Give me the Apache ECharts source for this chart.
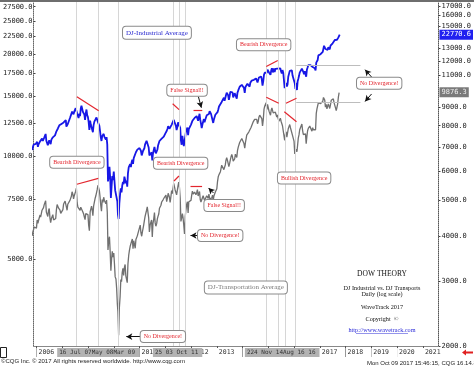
<!DOCTYPE html>
<html><head><meta charset="utf-8">
<script src="https://cdn.jsdelivr.net/npm/echarts@6/dist/echarts.min.js"></script>
<style>html,body{margin:0;padding:0;background:#fff}#c{width:474px;height:368px}</style>
</head><body><div id="c"></div>
<script>
// ---------- DATA (three samples a month: days 1, 11, 21) ----------
const dekadDays = [1, 11, 21];
// DJ Industrial Average
const djia2005 = [10440,10640,10820, 10910,10780,10880]; // from Nov
const djia2006 = [10850,11040,10670, 10870,10750,11070, 11010,11150,11280, 11110,11140,11350, 11400,11640,11120, 11170,10780,10990,
                  11150,11010,10870, 11200,11080,11380, 11380,11500,11530, 11680,11850,12010, 12080,12180,12340, 12220,12330,12460];
const djia2007 = [12470,12510,12580, 12650,12650,12780, 12230,12200,12450, 12350,12580,12960, 13130,13330,13540, 13650,13300,13540,
                  13530,13860,13950, 13360,13240,12960, 13360,13130,13820, 14090,14080,13520, 13650,13270,12800, 13370,13730,13230];
const djia2008 = [13040,12610,11970, 12740,12380,12260, 12270,11780,12360, 12650,12580,12820, 13010,12870,12620, 12640,12290,11840,
                  11380,11100,11470, 11330,11650,11410, 11540,11200,11390, 10830,8450,8690, 9320,8690,7550, 8150,8760,8520];
const djia2009 = [9030,8470,7950, 7940,7940,7370, 6760,6550,7280, 7760,8060,7840, 8210,8420,8290, 8720,8770,8340,
                  8500,8150,8920, 9290,9240,9500, 9310,9610,9780, 9510,9890,9950, 9790,10290,10320, 10470,10470,10410];
const djia2010 = [10580,10660,10390, 10070,10140,10390, 10400,10570,10850, 10860,11120,11130, 11010,10620,10070, 10140,10170,10280,
                  9730,10200,10320, 10670,10380,10210, 10270,10460,10760, 10830,11100,11110, 11120,11280,11200, 11260,11430,11530];
const djia2011 = [11670,11670,11870, 12040,12270,12390, 12060,12040,12040, 12380,12380,12510, 12810,12630,12510, 12290,11950,12190,
                  12580,12500,12720, 12130,11140,10820, 11490,11060,10730, 10660,11420,11810, 11660,12150,11550, 12020,12020,12110];
const djia2012 = [12400,12450,12720, 12720,12800,12970, 12980,12960,13130, 13260,12720,13030, 13340,12820,12500, 12120,12410,12570,
                  12870,12600,12820, 12970,13210,13200, 13040,13320,13580, 13520,13330,13350, 13230,12540,12840, 12970,13250,13190];
const djia2013 = [13410,13490,13710, 14010,13970,13880, 14090,14450,14420, 14570,14870,14570, 14700,15120,15390, 15250,15120,14660,
                  14980,15460,15550, 15630,15420,14900, 14830,15330,15400, 15190,14780,15390, 15620,15780,16010, 16010,15840,16220];
const djia2014 = [16440,16260,15880, 15370,15990,16100, 16170,16350,16300, 16530,16030,16450, 16560,16700,16530, 16740,16780,16950,
                  16960,16940,16980, 16490,16570,17040, 17070,17050,17170, 16800,16140,16610, 17370,17610,17810, 17780,17600,17960];
const djia2015 = [17830,17640,17550, 17360,17860,18140, 18290,17640,18130, 17700,18060,17950, 18020,18110,18290, 18040,18040,18120,
                  17760,17520,17920, 17600,17400,15870, 16060,16430,16050, 16270,17130,17170, 17830,17700,17820, 17890,17270,17250];
const djia2016 = [17150,16400,15770, 16450,15660,16620, 16870,17210,17620, 17790,17560,18100, 17890,17710,17440, 17790,17870,17140,
                  17950,18230,18520, 18400,18610,18530, 18420,18330,18290, 18250,18130,18150, 17890,18850,18960, 19190,19800,19980];
const djia2017 = [19880,19950,19830, 19890,20270,20740, 21120,20900,20670, 20650,20650,20550, 20910,20920,20610, 21140,21240,21410,
                  21480,21410,21580, 21960,21860,21680, 21990,22060,22360, 22560];
const djiaLastDate = '2017-10-09', djiaLast = 22770.6;
// DJ Transportation Average
const djt2005 = [4000,4100,4150, 4230,4250,4200];
const djt2006 = [4200,4420,4330, 4420,4460,4560, 4500,4600,4700, 4670,4780,4870, 4880,4990,4650, 4700,4520,4690,
                 4750,4480,4350, 4460,4430,4570, 4420,4400,4450, 4460,4720,4870, 4810,4760,4820, 4700,4610,4580];
const djt2007 = [4560,4720,4890, 4890,4980,5040, 4800,4700,4880, 4830,4900,5000, 5010,5130,5280, 5200,5050,5150,
                 5100,5300,5400, 4920,4790,4850, 4810,4700,4790, 4750,4840,4650, 4590,4500,4430, 4600,4650,4600];
const djt2008 = [4570,4280,4130, 4650,4700,4820, 4720,4540,4820, 4950,5060,5140, 5180,5350,5500, 5480,5320,5100,
                 4840,4670,5030, 4940,5100,5000, 5060,4900,5010, 4640,3660,3880, 3980,3620,3210, 3460,3630,3500];
const djt2009 = [3590,3350,3090, 3050,2870,2600, 2480,2140,2540, 2730,3040,3000, 3180,3260,3120, 3280,3340,3110,
                 3120,2980,3350, 3540,3650,3740, 3720,3870,3920, 3690,3880,3850, 3700,3910,3900, 4000,4070,4040];
const djt2010 = [4100,4280,4080, 3990,4100,4200, 4280,4400,4520, 4560,4700,4800, 4760,4480,4100, 4290,4300,4420,
                 3970,4330,4440, 4630,4340,4250, 4320,4450,4530, 4590,4760,4760, 4850,4950,4900, 5020,5060,5100];
const djt2011 = [5070,5170,4960, 5080,5230,5280, 5100,4940,5100, 5320,5220,5280, 5570,5450,5340, 5290,5180,5180,
                 5480,5610,5430, 5070,4380,4470, 4600,4470,4270, 4050,4520,4700, 4880,4960,4620, 4960,4930,5000];
const djt2012 = [5000,5170,5300, 5200,5230,5270, 5210,5180,5250, 5350,5140,5170, 5290,5030,4950, 4900,4920,5150,
                 5170,5000,5000, 4950,5150,5140, 5060,5200,5060, 5040,5000,5070, 5170,4990,5140, 5200,5270,5310];
const djt2013 = [5380,5630,5800, 5880,5950,5990, 6100,6240,6180, 6220,6070,6030, 6250,6440,6540, 6430,6350,6190,
                 6300,6440,6570, 6680,6580,6400, 6320,6490,6690, 6640,6550,6840, 6990,7070,7200, 7260,7160,7380];
const djt2014 = [7400,7350,7150, 6950,7200,7380, 7540,7550,7580, 7700,7640,7750, 7910,7900,8010, 8200,8260,8330,
                 8310,8240,8330, 8100,8210,8440, 8550,8480,8450, 8370,7990,8280, 8870,9050,9120, 9250,8850,9150];
const djt2015 = [9080,8770,8720, 8550,8820,8950, 9000,8670,8730, 8600,8710,8620, 8450,8560,8370, 8230,8200,8390,
                 8230,8150,8000, 8050,7950,7300, 7600,7700,7450, 7500,7850,7950, 8060,7900,8000, 7880,7520,7600];
const djt2016 = [7250,6700,6620, 6900,6790,7100, 7400,7550,7800, 7820,7740,8090, 7770,7570,7510, 7650,7600,7150,
                 7480,7750,7870, 7900,7980,8030, 7900,7730,7900, 7800,7760,7850, 7800,8650,8900, 8950,9250,9300];
const djt2017 = [9250,9200,9130, 9150,9320,9560, 9600,9400,8990, 9150,8900,8960, 9180,9050,8920, 9130,9390,9300,
                 9500,9480,9250, 9300,8950,8800, 9000,9200,9600, 9850];
const djtLastDate = '2017-10-09', djtLast = 9876.3;

// Axis ticks / labels
const leftTicks  = [27500, 25000, 22500, 20000, 17500, 15000, 12500, 10000, 7500, 5000];
const rightTicks = [17000, 16000, 15000, 13000, 12000, 11000, 9000, 8000, 7000, 6000, 5000, 4000, 3000, 2000];
const yearLabels = ['2006','2007','2008','2009','2010','2011','2012','2013','2014','2015','2016','2017','2018','2019','2020','2021'];
const dateLabelTexts = ['16 Jul 07May 08Mar 09', '25 03 Oct 11', '224 Nov 14Aug 16 16'];
const dateLabelDates = ['2006-10-22', '2010-07-10', '2014-02-03'];
const markerDates = ['2007-07-16','2008-05-27','2009-03-08','2011-05-01','2011-07-23','2011-10-16',
                     '2014-12-07','2015-05-24','2015-08-29','2016-01-24'];

// Annotations (date, value on the DJIA scale = 0 or DJT scale = 1)
const noteTexts  = ['Bearish Divergence','False Signal!!','Bearish Divergence','False Signal!!','No Divergence!',
                    'No Divergence!','Bearish Divergence','Bullish Divergence','No Divergence!'];
const noteDates  = ['2007-07-28','2011-11-06','2011-08-07','2013-04-15','2013-02-18','2010-11-28','2014-10-27','2016-05-23','2019-04-22'];
const noteValues = [9617, 15640, 9553, 4842, 4009, 2123, 21274, 5757, 16400];
const noteAxes   = [0, 0, 0, 1, 1, 1, 0, 1, 0];
const titleTexts  = ['DJ-Industrial Average', 'DJ-Transportation Average'];
const titleDates  = ['2010-09-05', '2014-02-17'];
const titleValues = [23070, 2889];
const titleAxes   = [0, 1];
const redSegments = [
  ['2007-07-28', 14970, '2008-06-01', 13620, 0],
  ['2007-07-28', 5534, '2008-05-27', 5746, 1],
  ['2011-04-16', 14280, '2011-07-16', 13715, 0],
  ['2012-02-06', 13620, '2012-06-09', 13620, 0],
  ['2011-05-05', 5649, '2011-07-14', 5831, 1],
  ['2011-12-25', 5451, '2012-06-06', 5451, 1],
  ['2014-12-03', 18370, '2015-05-15', 19130, 0],
  ['2014-12-03', 9568, '2015-05-29', 9213, 1],
  ['2015-09-09', 9213, '2016-02-05', 9508, 1],
  ['2015-08-16', 8738, '2016-02-05', 8207, 1]
];
const arrowSegments = [
  ['2012-04-15', 14970, '2012-05-27', 13900, 0],
  ['2012-11-15', 5239, '2012-09-06', 5407, 1],
  ['2012-04-29', 4009, '2011-12-25', 4009, 1],
  ['2010-01-24', 2121, '2009-06-28', 2121, 1],
  ['2019-01-04', 17100, '2018-10-04', 17970, 0],
  ['2019-01-04', 15250, '2018-10-04', 14500, 0]
];
const levelLines = [
  ['2016-02-01', 18500, '2018-07-30', 18500, 0],
  ['2016-02-01', 9290, '2018-07-30', 9290, 1]
];
const xMinDate = '2005-11-20', xMaxDate = '2021-08-10';

// ---------- BUILD ----------
const ts = s => Date.parse(s + 'T00:00:00Z');
function build(blocks, lastDate, lastValue) {
  const out = [];
  blocks.forEach(([year, firstMonth, vals]) => {
    vals.forEach((v, i) => {
      out.push([Date.UTC(year, firstMonth + Math.floor(i / 3), dekadDays[i % 3]), v]);
    });
  });
  out.push([ts(lastDate), lastValue]);
  return out;
}
const djiaData = build([[2005,10,djia2005],[2006,0,djia2006],[2007,0,djia2007],[2008,0,djia2008],[2009,0,djia2009],
  [2010,0,djia2010],[2011,0,djia2011],[2012,0,djia2012],[2013,0,djia2013],[2014,0,djia2014],[2015,0,djia2015],
  [2016,0,djia2016],[2017,0,djia2017]], djiaLastDate, djiaLast);
const djtData = build([[2005,10,djt2005],[2006,0,djt2006],[2007,0,djt2007],[2008,0,djt2008],[2009,0,djt2009],
  [2010,0,djt2010],[2011,0,djt2011],[2012,0,djt2012],[2013,0,djt2013],[2014,0,djt2014],[2015,0,djt2015],
  [2016,0,djt2016],[2017,0,djt2017]], djtLastDate, djtLast);

const BLUE = '#1717e6', GRAY = '#707070', RED = '#e3262e';
const xMin = ts(xMinDate), xMax = ts(xMaxDate);
const yearTs = yearLabels.map(y => ts(y + '-01-01'));
const dateTs = dateLabelDates.map(ts);
const monoFont = 'DejaVu Sans Mono';
const nearest = (arr, v) => { let b = 0; arr.forEach((a, i) => { if (Math.abs(a - v) < Math.abs(arr[b] - v)) b = i; }); return b; };

function noteItem(text, date, value, color, size) {
  return {
    coord: [ts(date), value], symbol: 'rect', symbolSize: 0,
    label: { show: true, position: 'inside', formatter: text, fontFamily: 'Liberation Serif', fontSize: size,
      color: color, backgroundColor: '#fff', borderColor: '#8a8a8a', borderWidth: 1, borderRadius: 3,
      padding: [2, 3, 2, 3], lineHeight: size + 1 }
  };
}
function segItems(list, axis, style) {
  return list.filter(s => s[4] === axis).map(s => [
    { coord: [ts(s[0]), s[1]], lineStyle: style },
    { coord: [ts(s[2]), s[3]] }
  ]);
}
function annotSeries(axis) {
  const pts = [];
  noteTexts.forEach((t, i) => { if (noteAxes[i] === axis) pts.push(noteItem(t, noteDates[i], noteValues[i], RED, 6)); });
  titleTexts.forEach((t, i) => { if (titleAxes[i] === axis) pts.push(noteItem(t, titleDates[i], titleValues[i], axis === 0 ? '#2a2ad0' : '#7a7a7a', 7)); });
  return {
    type: 'line', name: 'notes' + axis, xAxisIndex: 0, yAxisIndex: axis, data: [], z: 6, silent: true,
    markLine: {
      silent: true, symbol: ['none', 'none'], label: { show: false }, animation: false,
      data: [].concat(
        segItems(redSegments, axis, { color: RED, width: 1.2, type: 'solid' }),
        segItems(levelLines, axis, { color: '#bdbdbd', width: 1, type: 'solid' })
      )
    },
    markPoint: { silent: true, animation: false, data: pts }
  };
}
function arrowSeries(axis) {
  return {
    type: 'line', name: 'arrows' + axis, xAxisIndex: 0, yAxisIndex: axis, data: [], z: 7, silent: true,
    markLine: {
      silent: true, symbol: ['none', 'arrow'], symbolSize: [5, 6], label: { show: false }, animation: false,
      lineStyle: { color: '#111', width: 1, type: 'solid' },
      data: segItems(arrowSegments, axis, { color: '#111', width: 1, type: 'solid' })
    }
  };
}

const chart = echarts.init(document.getElementById('c'), null, { renderer: 'canvas' });
const option = {
  animation: false,
  backgroundColor: '#fff',
  grid: { left: 31, right: 32, top: 2, bottom: 22, containLabel: false },
  xAxis: [
    { type: 'value', min: xMin, max: xMax, position: 'bottom', z: 2, scale: true,
      axisLine: { show: true, lineStyle: { color: '#888', width: 1 } },
      axisTick: { show: true, customValues: yearTs, length: 11, inside: false, lineStyle: { color: '#555' } },
      axisLabel: { show: true, customValues: yearTs, hideOverlap: false, showMinLabel: true, showMaxLabel: true,
        formatter: v => yearLabels[nearest(yearTs, v)],
        align: 'left', margin: 2, fontFamily: monoFont, fontSize: 6.5, color: '#333',
        backgroundColor: '#fff', padding: [1, 1, 1, 2] },
      splitLine: { show: false } },
    { type: 'value', min: xMin, max: xMax, position: 'bottom', z: 3, scale: true,
      axisLine: { show: false }, axisTick: { show: false },
      axisLabel: { show: true, customValues: dateTs, hideOverlap: false, showMinLabel: true, showMaxLabel: true,
        formatter: v => dateLabelTexts[nearest(dateTs, v)],
        align: 'left', margin: 2, fontFamily: monoFont, fontSize: 6, color: '#333',
        backgroundColor: '#b2b2b2', padding: [1.5, 4, 1.5, 2] },
      splitLine: { show: false } }
  ],
  yAxis: [
    { type: 'log', logBase: 10, min: 2778, max: 28390, position: 'left',
      axisLine: { show: true, lineStyle: { color: '#666', type: 'dotted' } },
      axisTick: { show: true, customValues: leftTicks, inside: true, length: 2, lineStyle: { color: '#444' } },
      axisLabel: { customValues: leftTicks, formatter: v => (Math.round(v * 10) / 10).toFixed(1),
        fontFamily: monoFont, fontSize: 7, color: '#222', margin: 1 },
      splitLine: { show: false } },
    { type: 'log', logBase: 10, min: 2000, max: 17430, position: 'right',
      axisLine: { show: true, lineStyle: { color: '#555', type: 'dotted' } },
      axisTick: { show: true, customValues: rightTicks, inside: false, length: 2, lineStyle: { color: '#444' } },
      axisLabel: { customValues: rightTicks, formatter: v => (Math.round(v * 10) / 10).toFixed(1),
        fontFamily: monoFont, fontSize: 7, color: '#222', margin: 3 },
      splitLine: { show: false } }
  ],
  series: [
    { type: 'line', name: 'markers', xAxisIndex: 0, yAxisIndex: 0, data: [], z: 1, silent: true,
      markLine: { silent: true, symbol: ['none', 'none'], label: { show: false }, animation: false,
        lineStyle: { color: '#d6d6d6', width: 1, type: 'solid' },
        data: markerDates.map(d => ({ xAxis: ts(d) })) } },
    { type: 'line', name: 'DJ Industrial', xAxisIndex: 0, yAxisIndex: 0, data: djiaData, z: 3,
      showSymbol: false, symbol: 'none', lineStyle: { color: BLUE, width: 1.8 }, itemStyle: { color: BLUE },
      markPoint: { silent: true, animation: false, data: [{
        coord: [xMax, djiaLast], symbol: 'rect', symbolSize: 0,
        label: { show: true, position: 'right', distance: 1, formatter: djiaLast.toFixed(1), fontFamily: monoFont,
          fontSize: 7, color: '#fff', backgroundColor: '#2020f0', padding: [2, 2, 1, 2] } }] } },
    { type: 'line', name: 'DJ Transports', xAxisIndex: 0, yAxisIndex: 1, data: djtData, z: 2,
      showSymbol: false, symbol: 'none', lineStyle: { color: GRAY, width: 1.3 }, itemStyle: { color: GRAY },
      markPoint: { silent: true, animation: false, data: [{
        coord: [xMax, djtLast], symbol: 'rect', symbolSize: 0,
        label: { show: true, position: 'right', distance: 1, formatter: djtLast.toFixed(1), fontFamily: monoFont,
          fontSize: 7, color: '#eee', backgroundColor: '#7a7a7a', padding: [2, 2, 1, 2] } }] } },
    annotSeries(0), annotSeries(1), arrowSeries(0), arrowSeries(1)
  ],
  graphic: [
    { type: 'rect', shape: { x: 0, y: 0, width: 474, height: 2 }, style: { fill: '#6e6e6e' }, z: 10 },
    { type: 'rect', shape: { x: 0.5, y: 347.5, width: 6, height: 10 }, style: { fill: '#fff', stroke: '#222', lineWidth: 1 }, z: 10 },
    { type: 'polygon', shape: { points: [[462, 352.5], [466, 349.5], [466, 351.5], [473, 351.5], [473, 353.5], [466, 353.5], [466, 355.5]] },
      style: { fill: '#e02020' }, z: 10 },
    { type: 'text', left: 1, top: 358, z: 10, style: { text: '©CQG Inc. © 2017 All rights reserved worldwide. http://www.cqg.com',
      font: '6px "Liberation Sans"', fill: '#222' } },
    { type: 'text', left: 367, top: 360, z: 10, style: { text: 'Mon Oct 09 2017 15:46:15, CQG 16.14.8003',
      font: '6px "Liberation Sans"', fill: '#222' } },
    { type: 'text', x: 382, y: 274, z: 10, style: { text: 'DOW THEORY', font: '7.5px "Liberation Serif"', fill: '#111', align: 'center', verticalAlign: 'middle' } },
    { type: 'text', x: 382, y: 288, z: 10, style: { text: 'DJ Industrial vs. DJ Transports', font: '6.2px "Liberation Serif"', fill: '#111', align: 'center', verticalAlign: 'middle' } },
    { type: 'text', x: 382, y: 294.5, z: 10, style: { text: 'Daily (log scale)', font: '6.2px "Liberation Serif"', fill: '#111', align: 'center', verticalAlign: 'middle' } },
    { type: 'text', x: 382, y: 307, z: 10, style: { text: 'WaveTrack 2017', font: '6.2px "Liberation Serif"', fill: '#111', align: 'center', verticalAlign: 'middle' } },
    { type: 'text', x: 382, y: 319, z: 10, style: { text: 'Copyright  ©', font: '6.2px "Liberation Serif"', fill: '#111', align: 'center', verticalAlign: 'middle' } },
    { type: 'text', x: 382, y: 330.5, z: 10, style: { text: 'http://www.wavetrack.com', font: '6.2px "Liberation Serif"', fill: '#2a2ad8', align: 'center', verticalAlign: 'middle' } },
    { type: 'rect', shape: { x: 356, y: 333, width: 52, height: 0.6 }, style: { fill: '#2a2ad8' }, z: 10 }
  ]
};
chart.setOption(option);
</script>
</body></html>
